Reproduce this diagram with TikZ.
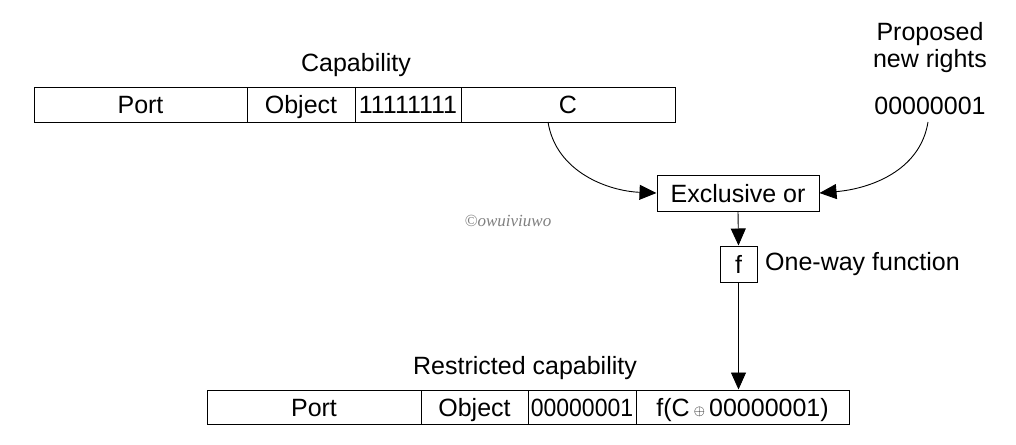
\documentclass[tikz,border=0pt]{standalone}
\usepackage{fontspec}
\setmainfont{Liberation Sans}
\newfontfamily\wmfont{Liberation Serif}
\usetikzlibrary{arrows.meta,calc}
\tikzset{
  x=1pt,y=-1pt,
  cell/.style={draw,line width=1pt,rectangle,inner sep=0pt,minimum height=35pt,text height=18pt,text depth=0pt,font=\fontsize{25}{28}\selectfont},
  lbl/.style={inner sep=0pt,font=\fontsize{25}{28}\selectfont},
  conn/.style={line width=0.9pt,-{Triangle[length=17pt,width=15pt]}},
  wm/.style={inner sep=0pt,text=black!50,font=\wmfont\itshape\fontsize{17}{20}\selectfont}
}
\begin{document}
\begin{tikzpicture}
\useasboundingbox (0,0) rectangle (1016,444);
% top row
\node[cell,minimum width=213pt] (p1) at (140.5,104.5) {Port};
\node[cell,minimum width=108pt] (o1) at (301,104.5) {Object};
\node[cell,minimum width=106pt] (b1) at (408,104.5) {11111111};
\node[cell,minimum width=214pt] (c1) at (568,104.5) {C};
\node[lbl] (cap) at (356,65) {Capability};
% proposed rights
\node[lbl,align=center] (prop) at (930,48) {Proposed\\[-1pt]new rights};
\node[lbl] (nr) at (930,106) {00000001};
% xor and f
\node[cell,minimum width=162pt,minimum height=36pt] (xor) at (738,193) {Exclusive or};
\node[cell,minimum width=37pt,minimum height=36pt] (f) at (738.5,264) {f};
\node[lbl,anchor=west] (owf) at (765,264) {One-way function};
% watermark
\node[wm] (w) at (508,221) {\textcopyright owuiviuwo};
% bottom row
\node[lbl] (rcap) at (525,368) {Restricted capability};
\node[cell,minimum width=214pt,minimum height=34pt] (p2) at (314,407) {Port};
\node[cell,minimum width=107pt,minimum height=34pt] (o2) at (474.5,407) {Object};
\node[cell,minimum width=108pt,minimum height=34pt] (b2) at (582,407) {\scalebox{0.92}[1]{00000001}};
\node[cell,minimum width=213pt,minimum height=34pt] (c2) at (742.5,407) {f(C\,\raisebox{1pt}{\fontsize{14}{14}\selectfont$\oplus$}\,00000001)};
% connectors
\coordinate (cs) at (548,122);
\coordinate (ns) at (928,122);
\draw[conn] (cs) .. controls (556,172) and (608,191) .. (xor.west);
\draw[conn] (ns) .. controls (920,172) and (868,189) .. (xor.east);
\draw[conn] (xor.south) -- (f.north);
\draw[conn] (f.south) -- (f.south |- c2.north);
\end{tikzpicture}
\end{document}
